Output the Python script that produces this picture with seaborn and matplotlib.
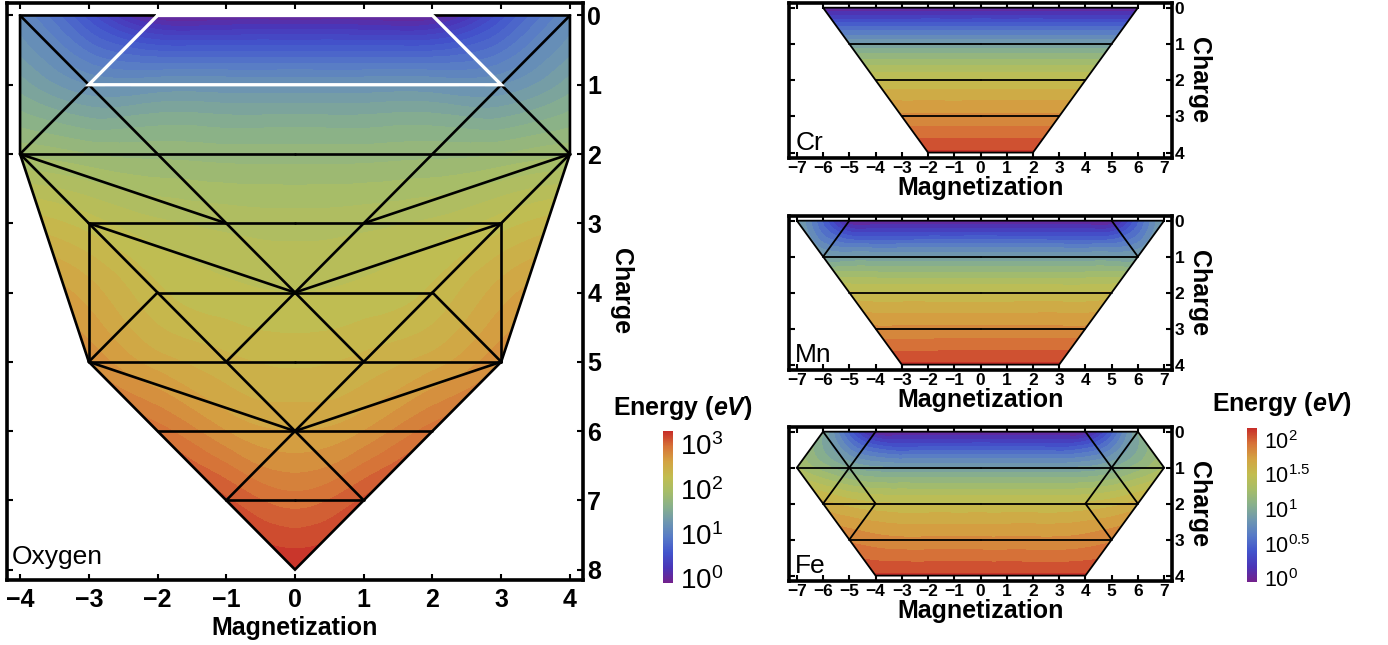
import numpy as np
import matplotlib
matplotlib.use("Agg")
import matplotlib.pyplot as plt
import seaborn as sns
from matplotlib.patches import Polygon
from matplotlib.tri import Triangulation, UniformTriRefiner, CubicTriInterpolator
from matplotlib.colors import Normalize
from matplotlib.cm import ScalarMappable

sns.set_theme(style="white")
plt.rcParams["font.family"] = ["Liberation Sans", "DejaVu Sans"]
plt.rcParams.update({
    "mathtext.fontset": "custom",
    "mathtext.rm": "Liberation Sans",
    "mathtext.it": "Liberation Sans:italic",
    "mathtext.bf": "Liberation Sans:bold",
    "mathtext.bfit": "Liberation Sans:bold:italic",
    "text.color": "black",
    "axes.labelcolor": "black",
    "xtick.color": "black",
    "ytick.color": "black",
})

# ---------------------------------------------------------------- colour scale
rainbow_stops = [
    (0.45, 0.13, 0.55), (0.29, 0.21, 0.72), (0.26, 0.33, 0.80),
    (0.34, 0.48, 0.78), (0.43, 0.59, 0.69), (0.53, 0.69, 0.55),
    (0.65, 0.74, 0.41), (0.76, 0.74, 0.31), (0.83, 0.64, 0.26),
    (0.84, 0.45, 0.22), (0.78, 0.18, 0.16),
]
cmap = sns.blend_palette(rainbow_stops, n_colors=256, as_cmap=True)

# ---------------------------------------------------------------- oxygen data
oxy_mag = [0, 1, 2, 3, 4]                # symmetric in magnetization
oxy_charge = [0, 1, 2, 3, 4, 5, 6, 7, 8]
oxy_log_energy = [                      # log10(E / eV), columns follow oxy_mag
    [0.00, 0.00, 0.00, 0.55, 1.10],
    [1.20, 1.20, 1.20, 1.20, 1.45],
    [1.75, 1.75, 1.77, 1.80, 1.88],
    [2.05, 2.07, 2.12, 2.25, 2.38],
    [2.20, 2.23, 2.32, 2.55, 2.70],
    [2.38, 2.43, 2.55, 2.78, 2.95],
    [2.60, 2.70, 2.95, 3.10, 3.20],
    [2.95, 3.12, 3.25, 3.30, 3.30],
    [3.30, 3.30, 3.30, 3.30, 3.30],
]
oxy_outline = [(-4, 0), (4, 0), (4, 2), (3, 5), (0, 8), (-3, 5), (-4, 2)]
oxy_window = [(-2, 0), (2, 0), (3, 1), (-3, 1), (-2, 0)]
oxy_edges = [  # left half, mirrored at draw time
    ((-4, 0), (0, 4)), ((-3, 1), (-4, 2)), ((-4, 2), (0, 2)),
    ((-4, 2), (-1, 3)), ((-4, 2), (-3, 3)), ((-3, 3), (0, 3)),
    ((-3, 3), (-3, 5)), ((-3, 3), (0, 4)), ((-3, 3), (0, 6)),
    ((-2, 4), (0, 4)), ((-2, 4), (-3, 5)), ((0, 4), (-1, 5)),
    ((-3, 5), (0, 5)), ((-3, 5), (0, 6)), ((-2, 6), (0, 6)),
    ((0, 6), (-1, 7)), ((-1, 7), (0, 7)),
]

# ---------------------------------------------------------- transition metals
tm_mag = [0, 1, 2, 3, 4, 5, 6, 7]
tm_charge = [0, 1, 2, 3, 4]
cr_log_energy = [
    [0.00] * 8,
    [0.90] * 8,
    [1.50] * 8,
    [1.82] * 8,
    [2.12] * 8,
]
mn_log_energy = [
    [0.00, 0.00, 0.00, 0.00, 0.00, 0.00, 0.48, 0.95],
    [0.90, 0.90, 0.90, 0.90, 0.90, 0.90, 0.92, 1.15],
    [1.50, 1.50, 1.50, 1.50, 1.50, 1.52, 1.56, 1.62],
    [1.82, 1.82, 1.82, 1.82, 1.82, 1.84, 1.87, 1.92],
    [2.12, 2.12, 2.12, 2.12, 2.12, 2.12, 2.14, 2.16],
]
fe_log_energy = [
    [0.00, 0.00, 0.00, 0.00, 0.00, 0.45, 1.00, 1.30],
    [0.90, 0.90, 0.90, 0.90, 0.92, 1.00, 1.15, 1.30],
    [1.50, 1.50, 1.50, 1.50, 1.52, 1.56, 1.64, 1.72],
    [1.82, 1.82, 1.82, 1.82, 1.84, 1.88, 1.92, 1.96],
    [2.12, 2.12, 2.12, 2.12, 2.12, 2.14, 2.16, 2.18],
]
cr_outline = [(-6, 0), (6, 0), (2, 4), (-2, 4)]
cr_edges = [((-5, 1), (0, 1)), ((-4, 2), (0, 2)), ((-3, 3), (0, 3))]
mn_outline = [(-7, 0), (7, 0), (6, 1), (3, 4), (-3, 4), (-6, 1)]
mn_edges = [((-5, 0), (-6, 1)), ((-6, 1), (0, 1)), ((-5, 2), (0, 2)),
            ((-4, 3), (0, 3))]
fe_outline = [(-6, 0), (6, 0), (7, 1), (6, 2), (4, 4), (-4, 4), (-6, 2), (-7, 1)]
fe_edges = [((-6, 0), (-5, 1)), ((-4, 0), (-5, 1)), ((-5, 1), (-6, 2)),
            ((-5, 1), (-4, 2)), ((-4, 2), (-5, 3)), ((-7, 1), (0, 1)),
            ((-6, 2), (0, 2)), ((-5, 3), (0, 3))]

oxy_ticks = [0, 1, 2, 3]
oxy_tick_labels = [r"$10^{0}$", r"$10^{1}$", r"$10^{2}$", r"$10^{3}$"]
tm_ticks = [0, 0.5, 1, 1.5, 2]
tm_tick_labels = [r"$10^{0}$", r"$10^{0.5}$", r"$10^{1}$", r"$10^{1.5}$", r"$10^{2}$"]

oxy_norm = Normalize(-0.1, 3.3)
tm_norm = Normalize(-0.05, 2.17)

W, H = 1388, 645
fig = plt.figure(figsize=(W / 100, H / 100), dpi=100)


def px_axes(x0, y0, x1, y1):
    return fig.add_axes([x0 / W, 1 - y1 / H, (x1 - x0) / W, (y1 - y0) / H])


def draw_surface(ax, mags, charges, half_table, outline, edges, norm, lw,
                 window=None):
    half = np.asarray(half_table, float)
    full = np.hstack([half[:, :0:-1], half])
    mags = np.asarray(mags, float)
    m_full = np.concatenate([-mags[:0:-1], mags])
    M, Q = np.meshgrid(m_full, np.asarray(charges, float))
    tri = Triangulation(M.ravel(), Q.ravel())
    z = full.ravel()
    interp = CubicTriInterpolator(tri, z, kind="min_E")
    rtri, rz = UniformTriRefiner(tri).refine_field(z, triinterpolator=interp,
                                                    subdiv=4)
    cs = ax.tricontourf(rtri, rz, levels=np.arange(-1.0, 4.6, 0.1),
                        cmap=cmap, norm=norm, zorder=1)
    clip = Polygon(outline, closed=True, transform=ax.transData,
                   facecolor="none", edgecolor="none")
    ax.add_patch(clip)
    cs.set_clip_path(clip)
    ax.add_patch(Polygon(outline, closed=True, fill=False, edgecolor="black",
                         lw=lw, joinstyle="miter", zorder=3))
    for a, b in edges:
        for s in (1, -1):
            ax.plot([s * a[0], s * b[0]], [a[1], b[1]], color="black", lw=lw,
                    solid_capstyle="round", zorder=3)
    if window is not None:
        wx, wy = zip(*window)
        ax.plot(wx, wy, color="white", lw=lw * 1.25, zorder=4,
                solid_joinstyle="miter")


def style_frame(ax, xlim, ylim, xticks, yticks, tick_size, lab_size,
                xpad, ypad, xlabpad, ylabpad):
    ax.set_xlim(*xlim)
    ax.set_ylim(*ylim)
    ax.set_xticks(xticks)
    ax.set_yticks(yticks)
    ax.tick_params(direction="in", length=4, width=1.5, top=True, bottom=True,
                   left=True, right=True, labelleft=False, labelright=True,
                   labelbottom=True, labelsize=tick_size)
    ax.tick_params(axis="x", pad=xpad)
    ax.tick_params(axis="y", pad=ypad)
    for lab in ax.get_xticklabels() + ax.get_yticklabels():
        lab.set_fontweight("bold")
    for sp in ax.spines.values():
        sp.set_visible(True)
        sp.set_color("black")
        sp.set_linewidth(2.6)
    ax.yaxis.set_label_position("right")
    ax.set_xlabel("Magnetization", fontsize=lab_size, fontweight="bold",
                  labelpad=xlabpad)
    ax.set_ylabel("Charge", fontsize=lab_size, fontweight="bold",
                  rotation=270, va="bottom", labelpad=ylabpad)
    ax.set_facecolor("white")


# ---------------------------------------------------------------- oxygen panel
ax_o = px_axes(7, 3, 583, 580)
draw_surface(ax_o, oxy_mag, oxy_charge, oxy_log_energy, oxy_outline,
             oxy_edges, oxy_norm, lw=1.9, window=oxy_window)
style_frame(ax_o, (-4.19, 4.19), (8.15, -0.18), range(-4, 5), range(0, 9),
            18, 18, 6, 3, 3, 6)
ax_o.text(0.009, 0.028, "Oxygen", transform=ax_o.transAxes, fontsize=19,
          ha="left", va="baseline")

# ---------------------------------------------------------------- metal panels
panels = [
    ("Cr", (3, 158), cr_log_energy, cr_outline, cr_edges),
    ("Mn", (216, 370), mn_log_energy, mn_outline, mn_edges),
    ("Fe", (427, 581), fe_log_energy, fe_outline, fe_edges),
]
for name, (y0, y1), table, outline, edges in panels:
    ax = px_axes(789, y0, 1172, y1)
    draw_surface(ax, tm_mag, tm_charge, table, outline, edges, tm_norm, lw=1.3)
    style_frame(ax, (-7.3, 7.3), (4.15, -0.13), range(-7, 8), range(0, 5),
                12.5, 18, 2, 2, 0, 2)
    ax.text(0.016, 0.05, name, transform=ax.transAxes, fontsize=19,
            ha="left", va="baseline")

# ---------------------------------------------------------------- colour bars
def add_colorbar(x0, y0, x1, y1, norm, ticks, labels, size, title_xy, title_size):
    cax = px_axes(x0, y0, x1, y1)
    cb = fig.colorbar(ScalarMappable(norm=norm, cmap=cmap), cax=cax)
    cb.set_ticks(ticks, labels=labels)
    cb.outline.set_visible(False)
    cax.tick_params(length=0, pad=5, labelsize=size)
    fig.text(title_xy[0] / W, 1 - title_xy[1] / H, r"Energy ($\mathbfit{eV}$)",
             fontsize=title_size, fontweight="bold", ha="center", va="center")


add_colorbar(663, 431, 673, 583, oxy_norm, oxy_ticks, oxy_tick_labels, 20,
             (683, 408), 18)
add_colorbar(1247, 428, 1257, 582, tm_norm, tm_ticks, tm_tick_labels, 15.5,
             (1282, 404), 18)

fig.savefig("out.png", dpi=100, facecolor="white")
